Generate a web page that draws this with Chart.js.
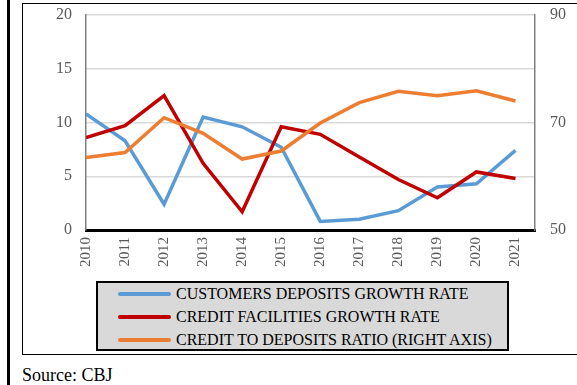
<!DOCTYPE html>
<html>
<head>
<meta charset="utf-8">
<script src="https://cdn.jsdelivr.net/npm/chart.js@4.4.1/dist/chart.umd.min.js"></script>
<style>
  html, body { margin: 0; padding: 0; background: #fff; }
  body { width: 577px; height: 385px; position: relative; overflow: hidden; font-family: 'Liberation Serif', 'Times New Roman', serif; }
  .bar { position: absolute; left: 7px; top: 0; width: 3px; height: 385px; background: #000; }
  .frame { position: absolute; left: 22px; top: 3px; width: 600px; height: 352px; border: 1.5px solid #000; border-right: none; box-sizing: border-box; }
  #chart { position: absolute; left: 0; top: 0; }
  .legend { position: absolute; left: 96px; top: 281px; width: 413px; height: 70px; border: 2px solid #000; background: #d9d9d9; box-sizing: border-box; }
  .legend-row { position: absolute; left: 20px; height: 22px; display: flex; align-items: center; }
  .legend-row span.swatch { display: inline-block; width: 53px; height: 4px; border-radius: 2px; margin-right: 5px; }
  .legend-row span.label { font-size: 16px; color: #000; white-space: nowrap; }
  .source { position: absolute; left: 22px; top: 365px; font-size: 18px; line-height: 20px; color: #000; }
</style>
</head>
<body>
<div class="bar"></div>
<div class="frame"></div>
<canvas id="chart" width="577" height="280"></canvas>
<div class="legend" id="legend"></div>
<div class="source">Source: CBJ</div>
<script>
const years = [2010, 2011, 2012, 2013, 2014, 2015, 2016, 2017, 2018, 2019, 2020, 2021];
const depositsGrowth = [10.8, 8.3, 2.4, 10.5, 9.6, 7.7, 0.8, 1.0, 1.8, 4.0, 4.3, 7.4];
const creditGrowth = [8.6, 9.7, 12.5, 6.2, 1.7, 9.6, 8.9, 6.8, 4.7, 3.0, 5.4, 4.8];
const creditToDeposits = [63.5, 64.4, 70.9, 68.0, 63.2, 64.7, 69.9, 73.7, 75.8, 75.0, 75.9, 74.0];

const SERIES_LABELS = [
  'CUSTOMERS DEPOSITS GROWTH RATE',
  'CREDIT FACILITIES GROWTH RATE',
  'CREDIT TO DEPOSITS RATIO (RIGHT AXIS)',
];

const COLORS = {
  blue: '#5b9bd5',
  red: '#c00000',
  orange: '#ed7d31',
  tick: '#595959',
  grid: '#d9d9d9',
  axis: '#808080',
};

const TICK_FONT = { family: "'Liberation Serif', 'Times New Roman', serif", size: 16 };

function points(values) {
  return years.map((year, i) => ({ x: year, y: values[i] }));
}

function lineDataset(label, values, color, axis, order) {
  return {
    label,
    data: points(values),
    borderColor: color,
    backgroundColor: color,
    borderWidth: 3.5,
    pointRadius: 0,
    tension: 0,
    yAxisID: axis,
    order,
  };
}

// fixed axis width, and no extra room asked above/below for the labels
function fixWidth(width) {
  return (scale) => {
    scale.width = width;
    scale.paddingTop = 0;
    scale.paddingBottom = 0;
  };
}

const chart = new Chart(document.getElementById('chart'), {
  type: 'line',
  data: {
    datasets: [
      lineDataset(SERIES_LABELS[0], depositsGrowth, COLORS.blue, 'y', 3),
      lineDataset(SERIES_LABELS[1], creditGrowth, COLORS.red, 'y', 2),
      lineDataset(SERIES_LABELS[2], creditToDeposits, COLORS.orange, 'y1', 1),
    ],
  },
  options: {
    responsive: false,
    animation: false,
    layout: { padding: { top: 15, left: 0, right: 0, bottom: 0 } },
    plugins: {
      legend: { display: false },
      tooltip: { enabled: false },
    },
    scales: {
      x: {
        type: 'linear',
        min: 2010,
        max: 2021.5,
        grid: { display: false, drawTicks: false },
        border: { color: '#000', width: 3 },
        ticks: {
          stepSize: 1,
          includeBounds: false,
          minRotation: 90,
          maxRotation: 90,
          padding: 7,
          font: { ...TICK_FONT, size: 15 },
          color: COLORS.tick,
          callback: (value) => (Number.isInteger(value) ? String(value) : ''),
        },
        afterFit: (scale) => { scale.height = 50; },
      },
      y: {
        position: 'left',
        min: 0,
        max: 20,
        grid: {
          drawTicks: false,
          color: (ctx) => (ctx.tick && ctx.tick.value === 0 ? 'rgba(0,0,0,0)' : COLORS.grid),
          lineWidth: 1.5,
        },
        border: { color: COLORS.axis, width: 1.5 },
        ticks: { stepSize: 5, padding: 14, font: TICK_FONT, color: COLORS.tick },
        afterFit: fixWidth(86),
      },
      y1: {
        position: 'right',
        min: 50,
        max: 90,
        grid: { display: false, drawTicks: false },
        border: { color: COLORS.axis, width: 1.5 },
        ticks: { stepSize: 20, padding: 15, font: TICK_FONT, color: COLORS.tick },
        afterFit: fixWidth(42),
      },
    },
  },
});

// legend box in the style of the original (grey fill, left aligned rows)
const legend = document.getElementById('legend');
const rowTops = [0, 23, 46];
chart.data.datasets.forEach((dataset, i) => {
  const row = document.createElement('div');
  row.className = 'legend-row';
  row.style.top = rowTops[i] + 'px';
  row.innerHTML = '<span class="swatch" style="background:' + dataset.borderColor + '"></span>' +
    '<span class="label">' + dataset.label + '</span>';
  legend.appendChild(row);
});
</script>
</body>
</html>
